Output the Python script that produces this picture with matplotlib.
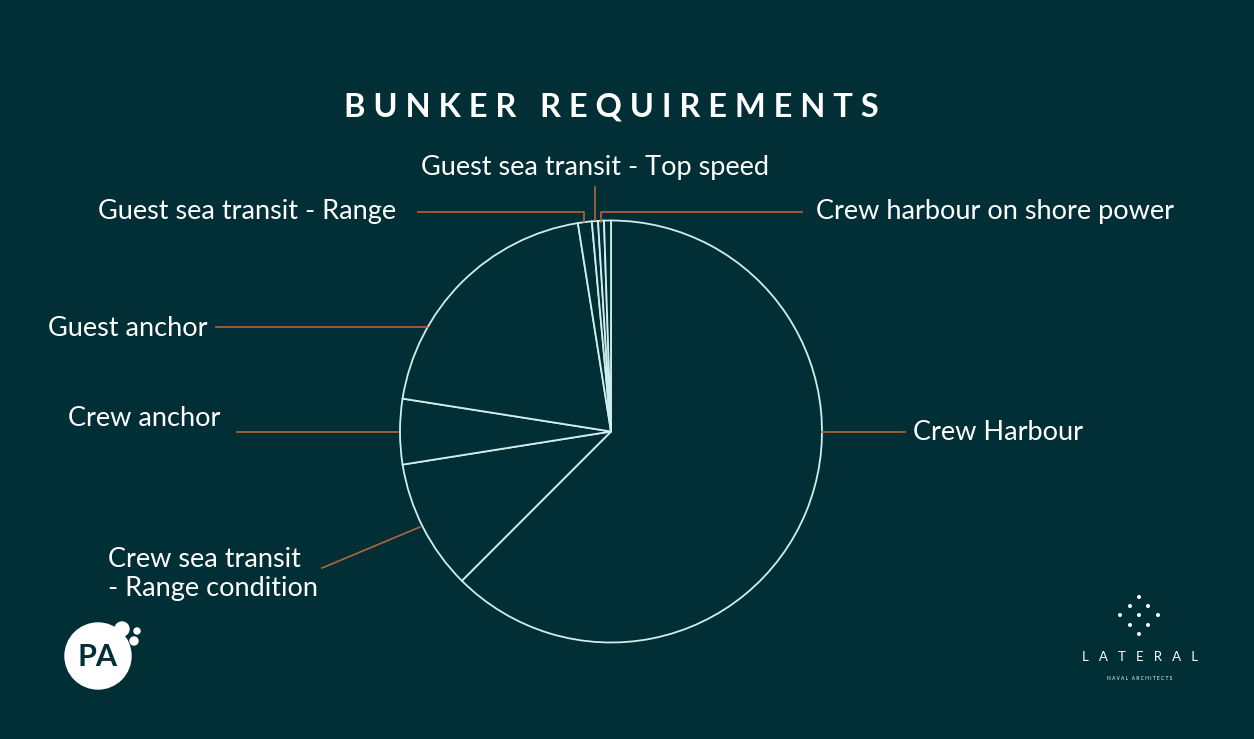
import matplotlib.pyplot as plt
from matplotlib.patches import Circle

# data (share of bunker requirement, %)
categories = ['Crew Harbour', 'Crew sea transit\n- Range condition', 'Crew anchor',
              'Guest anchor', 'Guest sea transit - Range', 'Guest sea transit - Top speed',
              'Crew harbour on shore power', '']
values = [62.5, 10.0, 5.0, 20.0, 1.06, 0.47, 0.45, 0.53]

BG = '#022f36'
EDGE = '#cfeeee'
LEAD = '#b5653c'
W, H = 1254, 739

fig = plt.figure(figsize=(W / 100, H / 100), dpi=100, facecolor=BG)
ax = fig.add_axes([0, 0, 1, 1])
ax.set_facecolor(BG)

cx, cy, r = 611, 431.5, 211
# y axis is flipped below, so counterclock=True draws clockwise on screen
ax.pie(values, center=(cx, cy), radius=r, startangle=-90, counterclock=True,
       colors=[BG] * len(values), frame=True,
       wedgeprops=dict(edgecolor=EDGE, linewidth=1.3))
ax.set_xlim(0, W)
ax.set_ylim(H, 0)
ax.set_aspect('equal')
ax.axis('off')

font = 'Lato'
fw = 'normal'
fs = 19.5

# leader lines and labels: (polyline points, text pos, ha)
layout = [
    ([(822, 432), (905, 432)], (913, 432), 'left'),
    ([(420, 527), (322, 568)], (108, 574), 'left'),
    ([(398, 432), (237, 432)], (68, 418), 'left'),
    ([(427, 327), (216, 327)], (48, 328), 'left'),
    ([(584, 222), (584, 212), (418, 212)], (98, 211), 'left'),
    ([(595, 220), (595, 187)], (595, 167), 'center'),
    ([(601, 222), (601, 212), (802, 212)], (816, 211), 'left'),
]
for (pts, tpos, ha), lab in zip(layout, categories):
    xs, ys = zip(*pts)
    ax.plot(xs, ys, color=LEAD, lw=1.2)
    ax.text(tpos[0], tpos[1], lab, color='white', fontsize=fs, family=font,
            fontweight=fw, ha=ha, va='center', linespacing=1.2)

ax.text(611, 107, ' '.join('BUNKER REQUIREMENTS'),
        color='white', fontsize=23.5, family='Lato', fontweight='bold',
        ha='center', va='center')

# PA logo
ax.add_patch(Circle((98, 656), 33, color='white'))
for (x, y, rr) in [(122, 629, 7), (137, 631, 3), (134, 641, 4)]:
    ax.add_patch(Circle((x, y), rr, color='white'))
ax.text(98, 657, 'PA', color=BG, fontsize=22, family='Lato', fontweight='bold',
        ha='center', va='center')

# Lateral logo
dots = [(1139, 597), (1130, 606), (1148, 606), (1120, 615), (1139, 615),
        (1158, 615), (1130, 625), (1148, 625), (1139, 634)]
for x, y in dots:
    ax.add_patch(Circle((x, y), 1.3, color='white'))
ax.text(1140, 657, 'L   A   T   E   R   A   L', color='white', fontsize=9.5,
        family='Lato', ha='center', va='center')
ax.text(1140, 678, 'N A V A L   A R C H I T E C T S', color='white', fontsize=3.5,
        family='Lato', ha='center', va='center')

fig.savefig('out.png', dpi=100, facecolor=BG)
